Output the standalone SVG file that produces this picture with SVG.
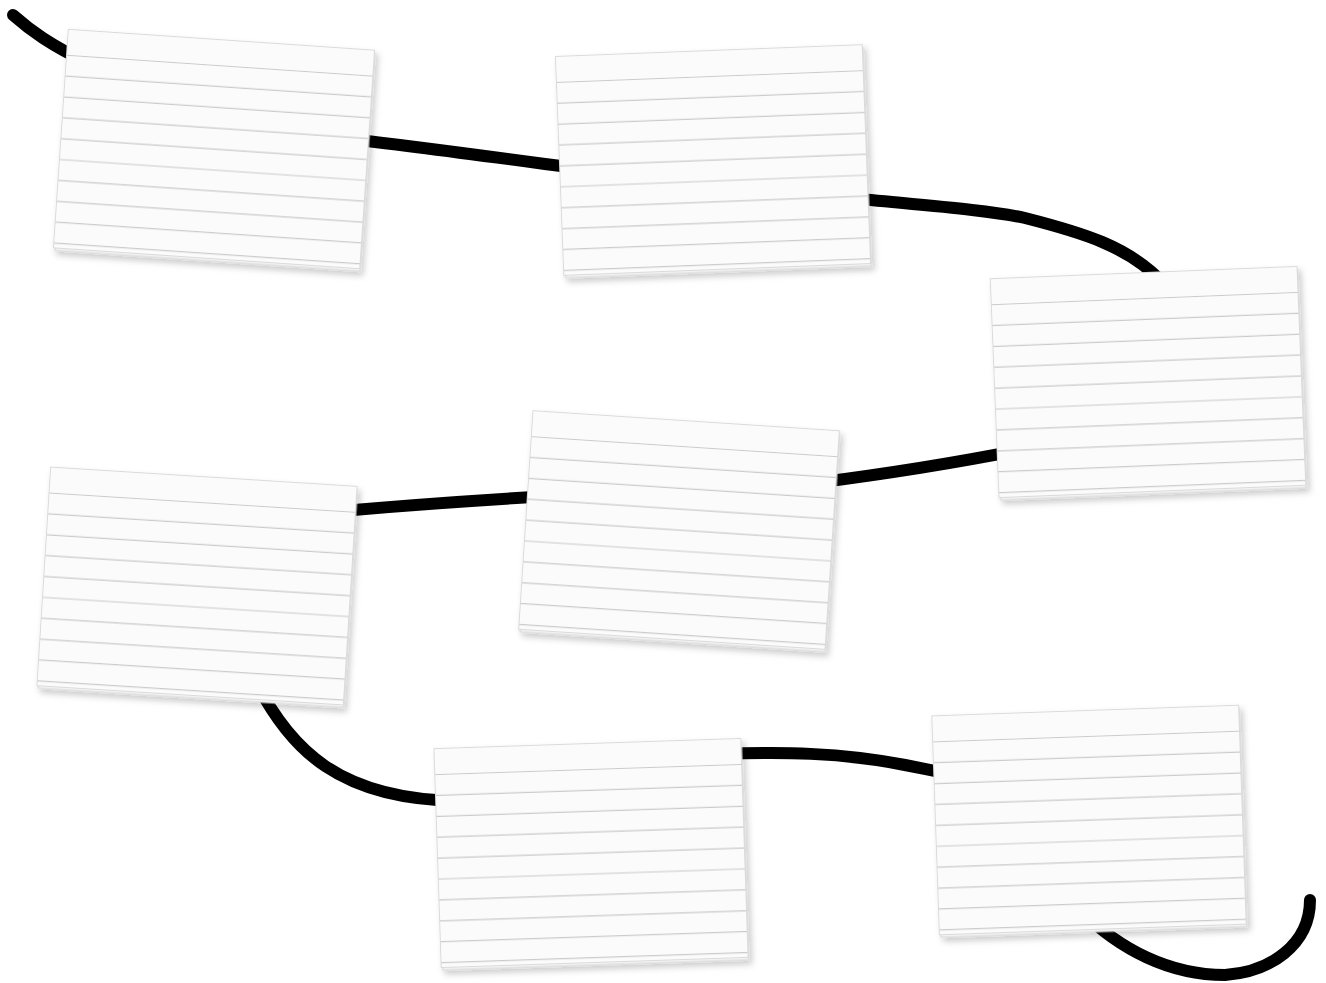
<svg xmlns="http://www.w3.org/2000/svg" xmlns:xlink="http://www.w3.org/1999/xlink" width="1326" height="983" viewBox="0 0 1326 983">
<style>
.rope{fill:none;stroke:#000;stroke-width:12;stroke-linecap:round;stroke-linejoin:round}
.paper{fill:#fbfbfb;stroke:#dadada;stroke-width:1}
.under{fill:#f3f3f3;stroke:#d6d6d6;stroke-width:1}
.rule{stroke:#cacaca;stroke-width:1.2}
</style>
<defs>
<filter id="shadow" x="-10%" y="-10%" width="125%" height="130%">
<feDropShadow dx="3" dy="4" stdDeviation="3" flood-color="#000" flood-opacity="0.2"/>
</filter>
<g id="card">
<rect class="under" x="-152" y="-107" width="306" height="219"/>
<rect class="paper" x="-153.5" y="-109.5" width="307" height="219"/>
<g class="rule">
<line x1="-153" y1="-83.5" x2="153" y2="-83.5"/>
<line x1="-153" y1="-62.6" x2="153" y2="-62.6"/>
<line x1="-153" y1="-41.7" x2="153" y2="-41.7"/>
<line x1="-153" y1="-20.8" x2="153" y2="-20.8"/>
<line x1="-153" y1="0.1" x2="153" y2="0.1"/>
<line x1="-153" y1="21" x2="153" y2="21"/>
<line x1="-153" y1="41.9" x2="153" y2="41.9"/>
<line x1="-153" y1="62.8" x2="153" y2="62.8"/>
<line x1="-153" y1="83.7" x2="153" y2="83.7"/>
<line x1="-153" y1="104.6" x2="153" y2="104.6"/>
</g>
</g>
</defs>
<rect width="1326" height="983" fill="#fff"/>
<g id="connectors">
<path class="rope" d="M13,15 C30,30 50,45 90,64"/>
<path class="rope" d="M350,139 C420,147 500,158 590,170"/>
<path class="rope" d="M850,198 C920,205 990,210 1025,218 C1080,232 1130,246 1165,285"/>
<path class="rope" d="M1020,450 C960,462 900,472 815,483"/>
<path class="rope" d="M550,496 C480,500 420,504 330,512"/>
<path class="rope" d="M255,680 C290,750 340,800 460,801"/>
<path class="rope" d="M720,754 C780,752 840,752 905,765 C925,769 935,771 960,776"/>
<path class="rope" d="M1080,910 C1120,950 1170,975 1225,975 C1270,972 1310,945 1310,900"/>
</g>
<g id="card1" transform="translate(214,149) rotate(3.9)" filter="url(#shadow)"><use xlink:href="#card" href="#card"/></g>
<g id="card2" transform="translate(713,160) rotate(-2.2)" filter="url(#shadow)"><use xlink:href="#card" href="#card"/></g>
<g id="card3" transform="translate(1148,382) rotate(-2.3)" filter="url(#shadow)"><use xlink:href="#card" href="#card"/></g>
<g id="card4" transform="translate(197,586) rotate(3.6)" filter="url(#shadow)"><use xlink:href="#card" href="#card"/></g>
<g id="card5" transform="translate(679,530) rotate(3.75)" filter="url(#shadow)"><use xlink:href="#card" href="#card"/></g>
<g id="card6" transform="translate(591,853) rotate(-1.9)" filter="url(#shadow)"><use xlink:href="#card" href="#card"/></g>
<g id="card7" transform="translate(1089,820) rotate(-2)" filter="url(#shadow)"><use xlink:href="#card" href="#card"/></g>
</svg>
